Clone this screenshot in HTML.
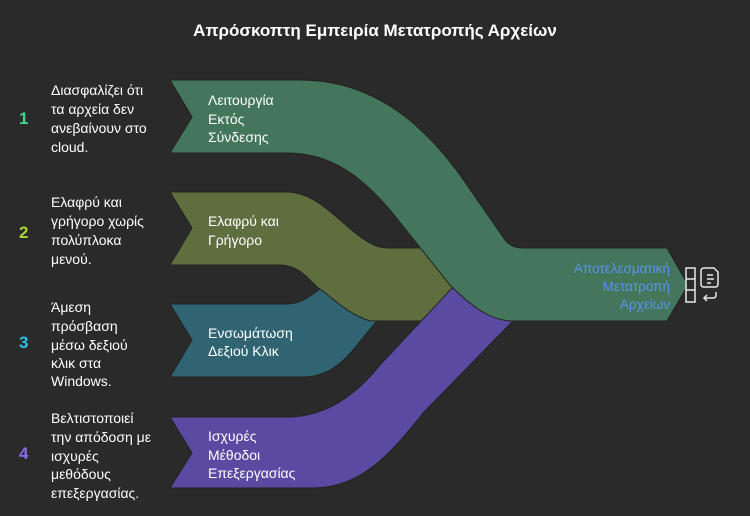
<!DOCTYPE html>
<html><head><meta charset="utf-8"><style>
body{margin:0;width:750px;height:516px;background:#2a2a2a;overflow:hidden;font-family:"Liberation Sans","DejaVu Sans",sans-serif;}
svg{position:absolute;left:0;top:0}
</style></head><body>
<svg width="750" height="516" viewBox="0 0 750 516">
<text x="375" y="36" text-anchor="middle" fill="#fff" font-size="17" font-weight="bold" font-family="Liberation Sans, DejaVu Sans, sans-serif">Απρόσκοπτη Εμπειρία Μετατροπής Αρχείων</text>
<g stroke="#222" stroke-width="1">
<!-- teal -->
<path d="M170,304 L287,304 C300,304 310,298 330,280 L400,321 L377,321 C355,345 340,377 303,377 L170,377 L192,340 Z" fill="#306473"/>
<!-- olive -->
<path d="M170,192 L287,192 C320,192 345,230 370,243 C375,246 380,248 390,248 L460,248 L485,287 L423,321 L370,321 C345,313 330,295 317,287 C305,274 295,265 280,265 L170,265 L192,228 Z" fill="#5f6e3f"/>
<!-- purple -->
<path d="M170,417 L287,417 C330,417 360,390 380,365 L453,287 L530,300 L513,321 L423,413 C390,455 360,488 313,488 L170,488 L192,453 Z" fill="#5a4aa2"/>
<!-- green -->
<path d="M170,80 L300,80 C370,80 420,120 460,175 L505,240 C510,246 515,248 525,248 L667,248 L688,285 L667,321 L513,321 C490,321 470,305 450,285 L390,210 C360,175 330,153 287,153 L170,153 L192,117 Z" fill="#43765b"/>
</g>
<g fill="#fff" font-size="14" font-family="Liberation Sans, DejaVu Sans, sans-serif">
<text x="208" y="105">Λειτουργία</text><text x="208" y="124">Εκτός</text><text x="208" y="142">Σύνδεσης</text>
<text x="208" y="226">Ελαφρύ και</text><text x="208" y="245">Γρήγορο</text>
<text x="208" y="338">Ενσωμάτωση</text><text x="208" y="356">Δεξιού Κλικ</text>
<text x="208" y="441">Ισχυρές</text><text x="208" y="460">Μέθοδοι</text><text x="208" y="478">Επεξεργασίας</text>
</g>
<g fill="#5b93f0" font-size="13.5" text-anchor="end" font-family="Liberation Sans, DejaVu Sans, sans-serif">
<text x="670" y="273">Αποτελεσματική</text><text x="670" y="291">Μετατροπή</text><text x="670" y="309">Αρχείων</text>
</g>
<g fill="none" stroke="#e8e8e8" stroke-width="1.5">
<rect x="686" y="268" width="9" height="34"/><line x1="686" y1="279" x2="695" y2="279"/><line x1="686" y1="290" x2="695" y2="290"/>
<path d="M704,268 h10 l4,4 v12 q0,3 -3,3 h-11 q-3,0 -3,-3 v-13 q0,-3 3,-3 z"/>
<line x1="707" y1="275" x2="713" y2="275"/><line x1="707" y1="279" x2="714" y2="279"/><line x1="707" y1="283" x2="711" y2="283"/>
<path d="M716,292 v3 q0,3 -3,3 h-8 M707,295 l-3,3 l3,3"/>
</g>
<g font-size="17" font-weight="bold" font-family="Liberation Sans, DejaVu Sans, sans-serif">
<text x="19" y="124" fill="#3fd98a">1</text>
<text x="19" y="238" fill="#a6d930">2</text>
<text x="19" y="348" fill="#2cc0e8">3</text>
<text x="19" y="459" fill="#8a6cf0">4</text>
</g>
<g fill="#fff" font-size="14" font-family="Liberation Sans, DejaVu Sans, sans-serif">
<text x="51" y="95">Διασφαλίζει ότι</text><text x="51" y="114">τα αρχεία δεν</text><text x="51" y="133">ανεβαίνουν στο</text><text x="51" y="152">cloud.</text>
<text x="51" y="207">Ελαφρύ και</text><text x="51" y="226">γρήγορο χωρίς</text><text x="51" y="245">πολύπλοκα</text><text x="51" y="264">μενού.</text>
<text x="51" y="312">Άμεση</text><text x="51" y="331">πρόσβαση</text><text x="51" y="350">μέσω δεξιού</text><text x="51" y="368">κλικ στα</text><text x="51" y="386">Windows.</text>
<text x="51" y="423">Βελτιστοποιεί</text><text x="51" y="442">την απόδοση με</text><text x="51" y="461">ισχυρές</text><text x="51" y="479">μεθόδους</text><text x="51" y="498">επεξεργασίας.</text>
</g>
</svg>
</body></html>
